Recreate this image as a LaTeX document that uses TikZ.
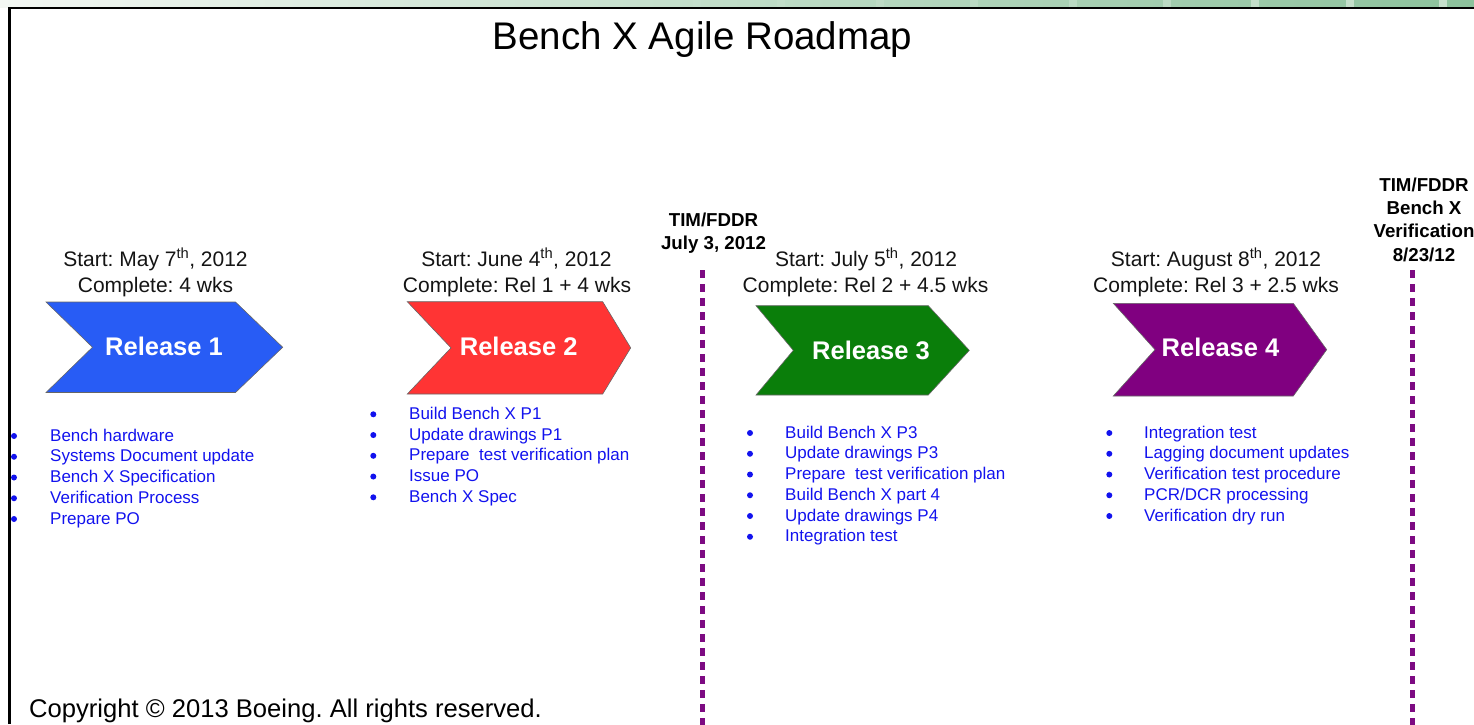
\documentclass[tikz,border=0pt]{standalone}
\usepackage{fontspec}
\setmainfont{Liberation Sans}
\frenchspacing
\definecolor{relblue}{RGB}{40,92,245}
\definecolor{relred}{RGB}{255,52,52}
\definecolor{relgreen}{RGB}{10,126,10}
\definecolor{relpurple}{RGB}{128,0,128}
\definecolor{itemblue}{RGB}{18,18,238}
\definecolor{mpurple}{RGB}{125,10,130}
\definecolor{bandL}{RGB}{243,247,243}
\definecolor{bandR}{RGB}{140,194,156}
\definecolor{stripe}{RGB}{205,228,210}
\tikzset{
  chev/.style={draw=black!60, line width=0.6pt},
  rel/.style={font=\bfseries\fontsize{25.5}{30}\selectfont, text=white, anchor=base, inner sep=0pt},
  hdr/.style={font=\fontsize{21}{25}\selectfont, text=black!92, anchor=base, inner sep=0pt},
  listitem/.style={font=\fontsize{17}{20}\selectfont, text=itemblue, anchor=base west, inner sep=0pt},
  bulletdot/.style={fill=itemblue, circle, inner sep=0pt, minimum size=6pt},
  mile/.style={font=\bfseries\fontsize{18.7}{22}\selectfont, anchor=base, inner sep=0pt},
  milestone/.style={draw=mpurple, line width=4.6pt, dash pattern=on 7.5pt off 6.5pt},
  frameline/.style={draw=black, line width=2.6pt},
}
\newcommand\chevron[8]{% name, xl, yt, xr, tip, yb, notch, colour
  \path[chev, fill=#8] (#2,#3) -- (#4,#3) -- (#5,{(#3+#6)/2}) -- (#4,#6) -- (#2,#6)
    -- ({#2+#7},{(#3+#6)/2}) -- cycle;
  \coordinate (#1) at ({(#2+#5)/2},{(#3+#6)/2});
}
\newcommand\itemlist[5]{% prefix, bullet x, text x, first baseline, items
  \foreach \t [count=\i from 0] in {#5} {
    \node[listitem] (#1-\i) at (#3,{#4+20.75*\i}) {\t};
    \node[bulletdot] (#1b-\i) at (#2,{#4+20.75*\i-5}) {};
  }
}
\begin{document}
\begin{tikzpicture}[x=1pt,y=-1pt]
\useasboundingbox (0,0) rectangle (1474,724);
\clip (0,0) rectangle (1474,724);
% top band
\shade[left color=bandL, right color=bandR] (0,0) rectangle (1474,7.5);
\foreach \sx/\op in {697/0.25,781/0.3,880/0.35,974/0.4,1073/0.5,1167/0.6,1255/0.8,1350/0.85,1443/0.9}
  \fill[stripe, opacity=\op] (\sx-4,0) rectangle (\sx+4,7.5);
% frame
\draw[frameline] (9.5,724) -- (9.5,8) -- (1474,8);

% title
\node[font=\fontsize{38.5}{44}\selectfont, anchor=base, inner sep=0pt] (title) at (702.5,49) {Bench X Agile Roadmap};

% headers
\node[hdr] (h1a) at (155.5,266) {Start: May 7\textsuperscript{th}, 2012};
\node[hdr] (h1b) at (155.5,292) {Complete: 4 wks};
\node[hdr] (h2a) at (516.5,266) {Start: June 4\textsuperscript{th}, 2012};
\node[hdr] (h2b) at (517,292) {Complete: Rel 1 + 4 wks};
\node[hdr] (h3a) at (866,266) {Start: July 5\textsuperscript{th}, 2012};
\node[hdr] (h3b) at (865.5,292) {Complete: Rel 2 + 4.5 wks};
\node[hdr] (h4a) at (1216,266) {Start: August 8\textsuperscript{th}, 2012};
\node[hdr] (h4b) at (1216,292) {Complete: Rel 3 + 2.5 wks};

% chevrons
\chevron{c1}{46}{302}{235.5}{282.7}{392.5}{46.5}{relblue}
\chevron{c2}{407.3}{301.7}{602.7}{630.7}{394}{43.7}{relred}
\chevron{c3}{756}{305.7}{928.3}{969.3}{395}{37.3}{relgreen}
\chevron{c4}{1113.3}{303.3}{1293.3}{1326.7}{396}{41.7}{relpurple}
\node[rel] (r1) at (164,355) {Release 1};
\node[rel] (r2) at (518.7,355) {Release 2};
\node[rel] (r3) at (871,359.3) {Release 3};
\node[rel] (r4) at (1220.5,356.7) {Release 4};

% lists
\itemlist{la}{14}{50}{441}{Bench hardware,Systems Document update,Bench X Specification,Verification Process,Prepare PO}
\itemlist{lb}{373.3}{409}{419.3}{Build Bench X P1,Update drawings P1,Prepare~ test verification plan,Issue PO,Bench X Spec}
\itemlist{lc}{750}{785}{438}{Build Bench X P3,Update drawings P3,Prepare~ test verification plan,Build Bench X part 4,Update drawings P4,Integration test}
\itemlist{ld}{1109.3}{1144}{438}{Integration test,Lagging document updates,Verification test procedure,PCR/DCR processing,Verification dry run}

% milestones
\node[mile] (m1a) at (713.5,226) {TIM/FDDR};
\node[mile] (m1b) at (713.5,249.3) {July 3, 2012};
\node[mile] (m2a) at (1424,191.5) {TIM/FDDR};
\node[mile] (m2b) at (1424,214.7) {Bench X};
\node[mile] (m2c) at (1424,237.9) {Verification};
\node[mile] (m2d) at (1424,261.1) {8/23/12};
\coordinate (d1top) at (702.5,270);
\coordinate (d1bot) at (702.5,730);
\coordinate (d2top) at (1412.5,270);
\coordinate (d2bot) at (1412.5,730);
\draw[milestone] (d1top) -- (d1bot);
\draw[milestone] (d2top) -- (d2bot);

% copyright
\node[font=\fontsize{25.6}{30}\selectfont, anchor=base west, inner sep=0pt] (copy) at (29,717) {Copyright \textcopyright{} 2013 Boeing. All rights reserved.};
\end{tikzpicture}
\end{document}
